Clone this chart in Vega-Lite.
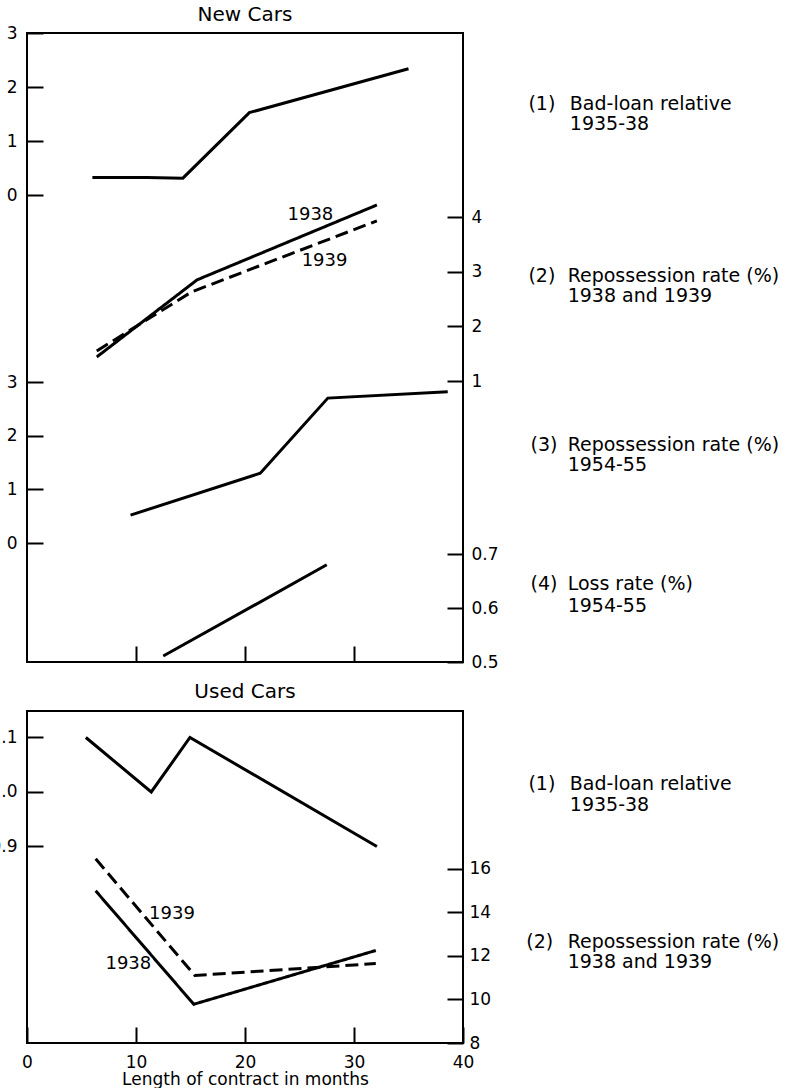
{
  "$schema": "https://vega.github.io/schema/vega-lite/v6.json",
  "padding": {"left": -12, "top": 4, "right": 0, "bottom": 0},
  "spacing": 10,
  "config": {
    "font": "DejaVu Sans",
    "view": {"stroke": "black", "strokeWidth": 2},
    "axis": {
      "domain": false, "grid": false, "ticks": true,
      "tickColor": "black", "tickWidth": 2, "tickSize": -16,
      "labelColor": "black", "labelFont": "DejaVu Sans", "labelFontSize": 17,
      "labelFlush": false, "labelOverlap": false,
      "titleColor": "black", "titleFont": "DejaVu Sans", "titleFontWeight": "normal", "titleFontSize": 17
    },
    "title": {"font": "DejaVu Sans", "fontSize": 20, "fontWeight": "normal", "color": "black", "offset": -1, "frame": "group"},
    "line": {"color": "black", "strokeWidth": 3},
    "text": {"color": "black", "font": "DejaVu Sans"}
  },
  "datasets": {
    "lines": [
      {"key": "new_bad", "year": "all", "month": 6.0, "value": 0.33},
      {"key": "new_bad", "year": "all", "month": 11.0, "value": 0.33},
      {"key": "new_bad", "year": "all", "month": 14.3, "value": 0.32},
      {"key": "new_bad", "year": "all", "month": 20.4, "value": 1.53},
      {"key": "new_bad", "year": "all", "month": 35.0, "value": 2.34},
      {"key": "new_repo", "year": "1938", "month": 6.4, "value": 1.44},
      {"key": "new_repo", "year": "1938", "month": 15.6, "value": 2.85},
      {"key": "new_repo", "year": "1938", "month": 32.1, "value": 4.22},
      {"key": "new_repo", "year": "1939", "month": 6.4, "value": 1.55},
      {"key": "new_repo", "year": "1939", "month": 15.1, "value": 2.63},
      {"key": "new_repo", "year": "1939", "month": 32.1, "value": 3.93},
      {"key": "new_repo54", "year": "all", "month": 9.5, "value": 0.52},
      {"key": "new_repo54", "year": "all", "month": 21.4, "value": 1.30},
      {"key": "new_repo54", "year": "all", "month": 27.6, "value": 2.70},
      {"key": "new_repo54", "year": "all", "month": 38.6, "value": 2.82},
      {"key": "new_loss54", "year": "all", "month": 12.5, "value": 0.511},
      {"key": "new_loss54", "year": "all", "month": 27.5, "value": 0.68},
      {"key": "used_bad", "year": "all", "month": 5.4, "value": 1.10},
      {"key": "used_bad", "year": "all", "month": 11.4, "value": 1.00},
      {"key": "used_bad", "year": "all", "month": 14.95, "value": 1.10},
      {"key": "used_bad", "year": "all", "month": 32.1, "value": 0.90},
      {"key": "used_repo", "year": "1938", "month": 6.3, "value": 14.99},
      {"key": "used_repo", "year": "1938", "month": 15.3, "value": 9.78},
      {"key": "used_repo", "year": "1938", "month": 32.0, "value": 12.25},
      {"key": "used_repo", "year": "1939", "month": 6.3, "value": 16.46},
      {"key": "used_repo", "year": "1939", "month": 15.4, "value": 11.10},
      {"key": "used_repo", "year": "1939", "month": 32.0, "value": 11.65}
    ],
    "notes": [
      {"key": "new_bad", "kind": "tag", "text": "(1)", "month": 46.0, "value": 1.69},
      {"key": "new_bad", "kind": "note", "text": "Bad-loan relative", "month": 49.8, "value": 1.69},
      {"key": "new_bad", "kind": "note", "text": "1935-38", "month": 49.8, "value": 1.32},
      {"key": "new_repo", "kind": "tag", "text": "(2)", "month": 46.0, "value": 2.92},
      {"key": "new_repo", "kind": "note", "text": "Repossession rate (%)", "month": 49.6, "value": 2.92},
      {"key": "new_repo", "kind": "note", "text": "1938 and 1939", "month": 49.6, "value": 2.55},
      {"key": "new_repo", "kind": "year", "text": "1938", "month": 26.0, "value": 4.04},
      {"key": "new_repo", "kind": "year", "text": "1939", "month": 27.3, "value": 3.19},
      {"key": "new_repo54", "kind": "tag", "text": "(3)", "month": 46.2, "value": 1.83},
      {"key": "new_repo54", "kind": "note", "text": "Repossession rate (%)", "month": 49.6, "value": 1.83},
      {"key": "new_repo54", "kind": "note", "text": "1954-55", "month": 49.6, "value": 1.45},
      {"key": "new_loss54", "kind": "tag", "text": "(4)", "month": 46.2, "value": 0.644},
      {"key": "new_loss54", "kind": "note", "text": "Loss rate (%)", "month": 49.6, "value": 0.644},
      {"key": "new_loss54", "kind": "note", "text": "1954-55", "month": 49.6, "value": 0.604},
      {"key": "used_bad", "kind": "tag", "text": "(1)", "month": 46.0, "value": 1.015},
      {"key": "used_bad", "kind": "note", "text": "Bad-loan relative", "month": 49.8, "value": 1.015},
      {"key": "used_bad", "kind": "note", "text": "1935-38", "month": 49.8, "value": 0.976},
      {"key": "used_repo", "kind": "tag", "text": "(2)", "month": 45.8, "value": 12.66},
      {"key": "used_repo", "kind": "note", "text": "Repossession rate (%)", "month": 49.6, "value": 12.66},
      {"key": "used_repo", "kind": "note", "text": "1938 and 1939", "month": 49.6, "value": 11.74},
      {"key": "used_repo", "kind": "year", "text": "1939", "month": 13.3, "value": 13.94},
      {"key": "used_repo", "kind": "year", "text": "1938", "month": 9.3, "value": 11.65}
    ]
  },
  "vconcat": [
    {
      "title": "New Cars",
      "width": 436,
      "height": 629,
      "resolve": {"scale": {"y": "independent"}, "axis": {"y": "independent", "x": "independent"}},
      "layer": [
        {
          "data": {"name": "lines"},
          "transform": [{"filter": "datum.key == 'new_bad'"}],
          "mark": {"type": "line"},
          "encoding": {
            "x": {"field": "month", "type": "quantitative", "scale": {"domain": [0, 40], "nice": false, "zero": false},
                  "axis": {"orient": "bottom", "values": [10, 20, 30], "labels": false, "title": null}},
            "y": {"field": "value", "type": "quantitative", "scale": {"domain": [-8.614, 3], "nice": false, "zero": false},
                  "axis": {"orient": "left", "values": [0, 1, 2, 3], "title": null, "labelPadding": 26, "minExtent": 36, "maxExtent": 36}}
          }
        },
        {
          "data": {"name": "notes"},
          "transform": [{"filter": "datum.key == 'new_bad'"}],
          "mark": {"type": "text", "align": "left", "baseline": "middle", "fontSize": 19},
          "encoding": {
            "x": {"field": "month", "type": "quantitative", "scale": {"domain": [0, 40], "nice": false, "zero": false}, "axis": null},
            "y": {"field": "value", "type": "quantitative", "scale": {"domain": [-8.614, 3], "nice": false, "zero": false}, "axis": null},
            "text": {"field": "text"}
          }
        },
        {
          "data": {"name": "lines"},
          "transform": [{"filter": "datum.key == 'new_repo'"}],
          "mark": {"type": "line"},
          "encoding": {
            "x": {"field": "month", "type": "quantitative", "scale": {"domain": [0, 40], "nice": false, "zero": false}, "axis": null},
            "y": {"field": "value", "type": "quantitative", "scale": {"domain": [-4.14, 7.366], "nice": false, "zero": false},
                  "axis": {"orient": "right", "values": [1, 2, 3, 4], "title": null, "labelPadding": 24}},
            "strokeDash": {"field": "year", "type": "nominal", "scale": {"domain": ["1938", "1939", "all"], "range": [[1, 0], [13, 6], [1, 0]]}, "legend": null}
          }
        },
        {
          "data": {"name": "notes"},
          "transform": [{"filter": "datum.key == 'new_repo' && datum.kind != 'year'"}],
          "mark": {"type": "text", "align": "left", "baseline": "middle", "fontSize": 19},
          "encoding": {
            "x": {"field": "month", "type": "quantitative", "scale": {"domain": [0, 40], "nice": false, "zero": false}, "axis": null},
            "y": {"field": "value", "type": "quantitative", "scale": {"domain": [-4.14, 7.366], "nice": false, "zero": false}, "axis": null},
            "text": {"field": "text"}
          }
        },
        {
          "data": {"name": "notes"},
          "transform": [{"filter": "datum.key == 'new_repo' && datum.kind == 'year'"}],
          "mark": {"type": "text", "align": "center", "baseline": "middle", "fontSize": 18},
          "encoding": {
            "x": {"field": "month", "type": "quantitative", "scale": {"domain": [0, 40], "nice": false, "zero": false}, "axis": null},
            "y": {"field": "value", "type": "quantitative", "scale": {"domain": [-4.14, 7.366], "nice": false, "zero": false}, "axis": null},
            "text": {"field": "text"}
          }
        },
        {
          "data": {"name": "lines"},
          "transform": [{"filter": "datum.key == 'new_repo54'"}],
          "mark": {"type": "line"},
          "encoding": {
            "x": {"field": "month", "type": "quantitative", "scale": {"domain": [0, 40], "nice": false, "zero": false}, "axis": null},
            "y": {"field": "value", "type": "quantitative", "scale": {"domain": [-2.217, 9.503], "nice": false, "zero": false},
                  "axis": {"orient": "left", "values": [0, 1, 2, 3], "title": null, "labelPadding": 26, "minExtent": 36, "maxExtent": 36}}
          }
        },
        {
          "data": {"name": "notes"},
          "transform": [{"filter": "datum.key == 'new_repo54'"}],
          "mark": {"type": "text", "align": "left", "baseline": "middle", "fontSize": 19},
          "encoding": {
            "x": {"field": "month", "type": "quantitative", "scale": {"domain": [0, 40], "nice": false, "zero": false}, "axis": null},
            "y": {"field": "value", "type": "quantitative", "scale": {"domain": [-2.217, 9.503], "nice": false, "zero": false}, "axis": null},
            "text": {"field": "text"}
          }
        },
        {
          "data": {"name": "lines"},
          "transform": [{"filter": "datum.key == 'new_loss54'"}],
          "mark": {"type": "line"},
          "encoding": {
            "x": {"field": "month", "type": "quantitative", "scale": {"domain": [0, 40], "nice": false, "zero": false}, "axis": null},
            "y": {"field": "value", "type": "quantitative", "scale": {"domain": [0.5, 1.665], "nice": false, "zero": false},
                  "axis": {"orient": "right", "values": [0.5, 0.6, 0.7], "format": ".1f", "title": null, "labelPadding": 24}}
          }
        },
        {
          "data": {"name": "notes"},
          "transform": [{"filter": "datum.key == 'new_loss54'"}],
          "mark": {"type": "text", "align": "left", "baseline": "middle", "fontSize": 19},
          "encoding": {
            "x": {"field": "month", "type": "quantitative", "scale": {"domain": [0, 40], "nice": false, "zero": false}, "axis": null},
            "y": {"field": "value", "type": "quantitative", "scale": {"domain": [0.5, 1.665], "nice": false, "zero": false}, "axis": null},
            "text": {"field": "text"}
          }
        }
      ]
    },
    {
      "title": {"text": "Used Cars", "offset": 9},
      "width": 436,
      "height": 332,
      "resolve": {"scale": {"y": "independent"}, "axis": {"y": "independent", "x": "independent"}},
      "layer": [
        {
          "data": {"name": "lines"},
          "transform": [{"filter": "datum.key == 'used_bad'"}],
          "mark": {"type": "line"},
          "encoding": {
            "x": {"field": "month", "type": "quantitative", "scale": {"domain": [0, 40], "nice": false, "zero": false},
                  "axis": {"orient": "bottom", "values": [0, 10, 20, 30, 40], "title": "Length of contract in months", "labelPadding": 27, "titlePadding": 1}},
            "y": {"field": "value", "type": "quantitative", "scale": {"domain": [0.5394, 1.1486], "nice": false, "zero": false},
                  "axis": {"orient": "left", "values": [0.9, 1.0, 1.1], "format": ".1f", "title": null, "labelPadding": 26, "minExtent": 36, "maxExtent": 36}}
          }
        },
        {
          "data": {"name": "notes"},
          "transform": [{"filter": "datum.key == 'used_bad'"}],
          "mark": {"type": "text", "align": "left", "baseline": "middle", "fontSize": 19},
          "encoding": {
            "x": {"field": "month", "type": "quantitative", "scale": {"domain": [0, 40], "nice": false, "zero": false}, "axis": null},
            "y": {"field": "value", "type": "quantitative", "scale": {"domain": [0.5394, 1.1486], "nice": false, "zero": false}, "axis": null},
            "text": {"field": "text"}
          }
        },
        {
          "data": {"name": "lines"},
          "transform": [{"filter": "datum.key == 'used_repo'"}],
          "mark": {"type": "line"},
          "encoding": {
            "x": {"field": "month", "type": "quantitative", "scale": {"domain": [0, 40], "nice": false, "zero": false}, "axis": null},
            "y": {"field": "value", "type": "quantitative", "scale": {"domain": [8, 23.25], "nice": false, "zero": false},
                  "axis": {"orient": "right", "values": [8, 10, 12, 14, 16], "title": null, "labelPadding": 22}},
            "strokeDash": {"field": "year", "type": "nominal", "scale": {"domain": ["1938", "1939", "all"], "range": [[1, 0], [13, 6], [1, 0]]}, "legend": null}
          }
        },
        {
          "data": {"name": "notes"},
          "transform": [{"filter": "datum.key == 'used_repo' && datum.kind != 'year'"}],
          "mark": {"type": "text", "align": "left", "baseline": "middle", "fontSize": 19},
          "encoding": {
            "x": {"field": "month", "type": "quantitative", "scale": {"domain": [0, 40], "nice": false, "zero": false}, "axis": null},
            "y": {"field": "value", "type": "quantitative", "scale": {"domain": [8, 23.25], "nice": false, "zero": false}, "axis": null},
            "text": {"field": "text"}
          }
        },
        {
          "data": {"name": "notes"},
          "transform": [{"filter": "datum.key == 'used_repo' && datum.kind == 'year'"}],
          "mark": {"type": "text", "align": "center", "baseline": "middle", "fontSize": 18},
          "encoding": {
            "x": {"field": "month", "type": "quantitative", "scale": {"domain": [0, 40], "nice": false, "zero": false}, "axis": null},
            "y": {"field": "value", "type": "quantitative", "scale": {"domain": [8, 23.25], "nice": false, "zero": false}, "axis": null},
            "text": {"field": "text"}
          }
        }
      ]
    }
  ]
}
